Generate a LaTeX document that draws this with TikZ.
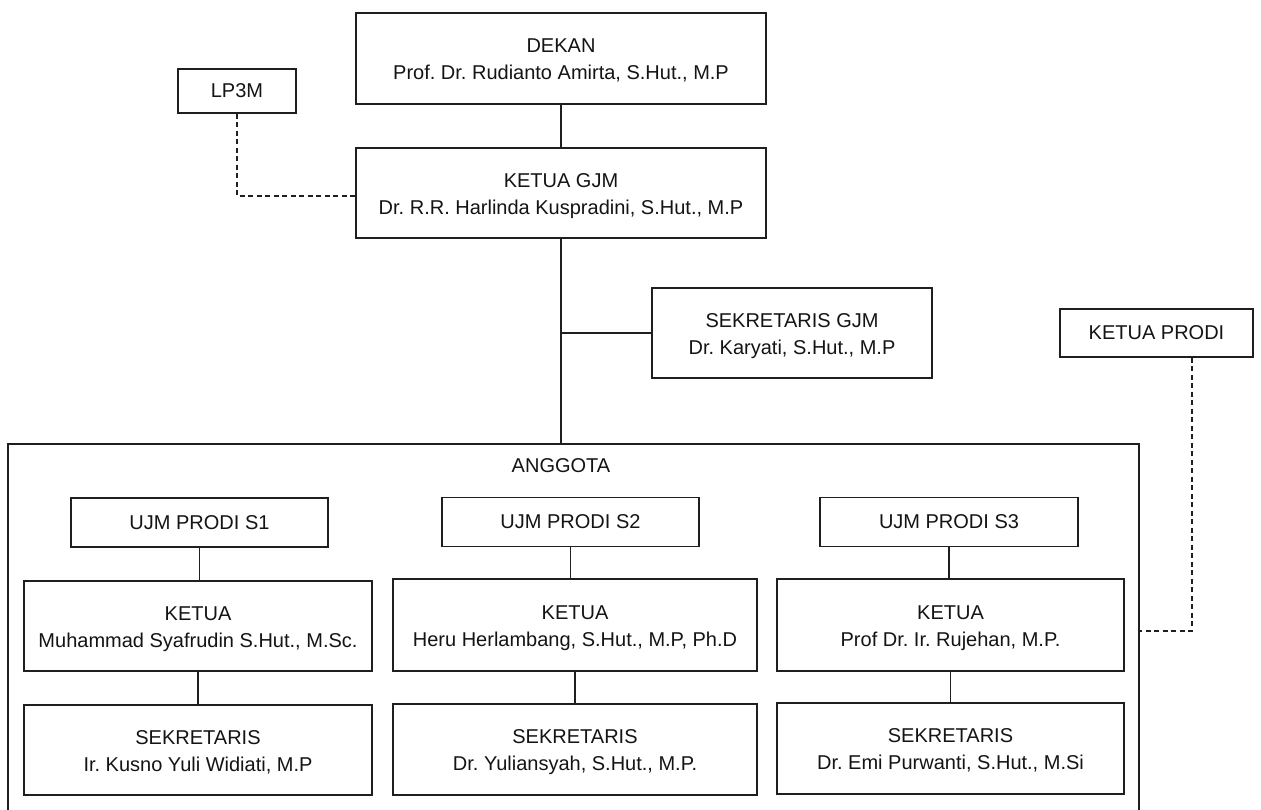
\documentclass[tikz,border=0pt]{standalone}
\usepackage{fontspec}
\setmainfont{Liberation Sans}
\frenchspacing
\newcommand{\twolines}[2]{\raisebox{-2.5pt}[\height][\depth]{\begin{tabular}{@{}c@{}}#1\\#2\end{tabular}}}
\begin{document}
\begin{tikzpicture}[x=1pt,y=-1pt,
  orgbox/.style={draw=black!88, line width=1.3pt, rectangle, inner sep=0pt,
    font=\fontsize{20}{27}\selectfont\frenchspacing, text=black!92},
  link/.style={draw=black!88, line width=1.3pt},
  dashlink/.style={draw=black!88, line width=1.3pt, dash pattern=on 5pt off 3.5pt}]
\useasboundingbox (0,0) rectangle (1261,809);
\fill[white] (0,0) rectangle (1261,809);

% top level
\node[orgbox, minimum width=410pt, minimum height=91pt] (dekan) at (561,58.5)
  {\twolines{DEKAN}{Prof. Dr. Rudianto Amirta, S.Hut., M.P}};
\node[orgbox, minimum width=118pt, minimum height=44pt] (lp3m) at (237,91) {LP3M};
\node[orgbox, minimum width=410pt, minimum height=90pt] (gjm) at (561,193)
  {\twolines{KETUA GJM}{Dr. R.R. Harlinda Kuspradini, S.Hut., M.P}};
\node[orgbox, minimum width=280pt, minimum height=90pt] (sgjm) at (792,333)
  {\twolines{SEKRETARIS GJM}{Dr. Karyati, S.Hut., M.P}};
\node[orgbox, minimum width=193pt, minimum height=48pt] (kprodi) at (1156.5,333) {KETUA PRODI};

% anggota frame (bottom runs past the page)
\node[orgbox, minimum width=1131pt, minimum height=374pt] (anggota) at (573.5,631) {};
\node[font=\fontsize{20}{27}\selectfont, text=black!92, inner sep=0pt] (anggotalbl) at (561,466) {ANGGOTA};

% UJM boxes
\node[orgbox, minimum width=257pt, minimum height=49pt] (ujm1) at (199.5,522.5) {UJM PRODI S1};
\node[orgbox, minimum width=257pt, minimum height=49pt] (ujm2) at (570.5,522) {UJM PRODI S2};
\node[orgbox, minimum width=258pt, minimum height=49pt] (ujm3) at (949,522) {UJM PRODI S3};

% ketua boxes
\node[orgbox, minimum width=348pt, minimum height=90pt] (k1) at (198,626)
  {\twolines{KETUA}{Muhammad Syafrudin S.Hut., M.Sc.}};
\node[orgbox, minimum width=364pt, minimum height=92pt] (k2) at (575,625)
  {\twolines{KETUA}{Heru Herlambang, S.Hut., M.P, Ph.D}};
\node[orgbox, minimum width=347pt, minimum height=92pt] (k3) at (950.5,625)
  {\twolines{KETUA}{Prof Dr. Ir. Rujehan, M.P.}};

% sekretaris boxes
\node[orgbox, minimum width=348pt, minimum height=90pt] (s1) at (198,750)
  {\twolines{SEKRETARIS}{Ir. Kusno Yuli Widiati, M.P}};
\node[orgbox, minimum width=364pt, minimum height=91pt] (s2) at (575,749.5)
  {\twolines{SEKRETARIS}{Dr. Yuliansyah, S.Hut., M.P.}};
\node[orgbox, minimum width=347pt, minimum height=91pt] (s3) at (950.5,748.5)
  {\twolines{SEKRETARIS}{Dr. Emi Purwanti, S.Hut., M.Si}};

% connectors
\draw[link] (dekan.south) -- (gjm.north);
\draw[link] (gjm.south) -- (gjm.south |- anggota.north);
\draw[link] (sgjm.west) -- (sgjm.west -| gjm.south);
\draw[dashlink] (lp3m.south) |- ([yshift=-3pt]gjm.west);
\draw[dashlink] ([xshift=35.5pt]kprodi.south) |- (anggota.east);

\draw[link] (ujm1.south) -- (ujm1.south |- k1.north);
\draw[link] (ujm2.south) -- (ujm2.south |- k2.north);
\draw[link] (ujm3.south) -- (ujm3.south |- k3.north);
\draw[link] (k1.south) -- (k1.south |- s1.north);
\draw[link] (k2.south) -- (k2.south |- s2.north);
\draw[link] (k3.south) -- (k3.south |- s3.north);
\end{tikzpicture}
\end{document}
